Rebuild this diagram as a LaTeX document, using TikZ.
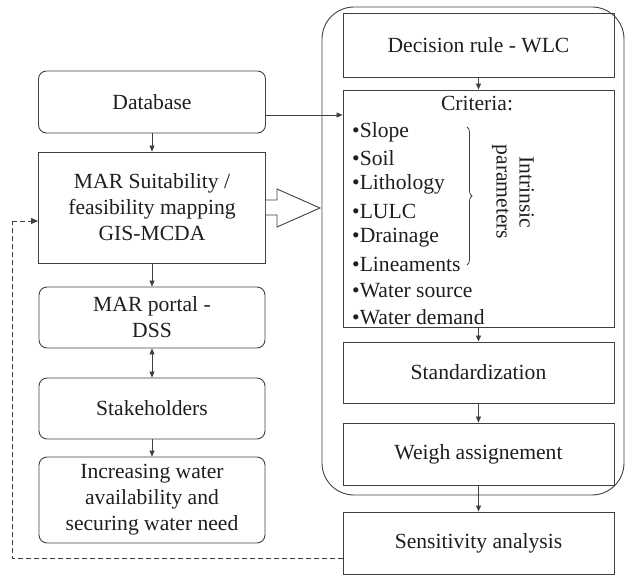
\documentclass[tikz,border=0pt]{standalone}
\usepackage{fontspec}
\setmainfont{Liberation Serif}
\usetikzlibrary{arrows.meta,decorations.pathreplacing}
\definecolor{ln}{HTML}{404040}
\definecolor{tx}{HTML}{1E1E1E}
\tikzset{
  x=1pt,y=-1pt,
  every node/.style={text=tx,font=\fontsize{21.6}{26}\selectfont},
  box/.style={draw=ln,line width=0.9pt,align=center,inner sep=0pt},
  rbox/.style={box,rounded corners=8pt},
  arr/.style={draw=ln,line width=0.8pt,-{Triangle[length=6pt,width=5pt]}},
  darr/.style={draw=ln,line width=0.8pt,{Triangle[length=6pt,width=5pt]}-{Triangle[length=6pt,width=5pt]}},
  item/.style={anchor=west,inner sep=0pt}
}
\begin{document}
\begin{tikzpicture}
\useasboundingbox (0,0) rectangle (625,575);
% container
\draw[ln,line width=0.9pt,rounded corners=32pt] (322,7) rectangle (624,495);
% left column
\node[rbox,minimum width=227pt,minimum height=62pt] (db) at (152,102) {Database};
\node[box,minimum width=227pt,minimum height=111pt] (mar) at (152,207.5) {MAR Suitability /\\feasibility mapping\\GIS-MCDA};
\node[rbox,minimum width=226pt,minimum height=61pt] (portal) at (152,317.5) {MAR portal -\\DSS};
\node[rbox,minimum width=226pt,minimum height=61pt] (stake) at (152,408.5) {Stakeholders};
\node[rbox,minimum width=226pt,minimum height=86pt] (incr) at (152,500) {Increasing water\\availability and\\securing water need};
% right column
\node[box,minimum width=271pt,minimum height=64pt] (dec) at (478.5,45) {Decision rule - WLC};
\node[box,minimum width=271pt,minimum height=237pt] (crit) at (478.5,208.5) {};
\node[box,minimum width=271pt,minimum height=61pt] (std) at (478.5,372.5) {Standardization};
\node[box,minimum width=271pt,minimum height=62pt] (wei) at (478.5,454) {Weigh assignement};
\node[box,minimum width=271pt,minimum height=62pt] (sens) at (478.5,543) {Sensitivity analysis};
% criteria content
\node[inner sep=0pt] (ctitle) at (477,104) {Criteria:};
\node[item] (c1) at (352,132) {•Slope};
\node[item] (c2) at (352,158) {•Soil};
\node[item] (c3) at (352,184.5) {•Lithology};
\node[item] (c4) at (352,211) {•LULC};
\node[item] (c5) at (352,237.5) {•Drainage};
\node[item] (c6) at (352,264) {•Lineaments};
\node[item] (c7) at (352,290.5) {•Water source};
\node[item] (c8) at (352,317) {•Water demand};
\draw[ln,line width=0.8pt,decorate,decoration={brace,amplitude=5pt}] (467,127) -- (467,265) coordinate[midway] (bm);
\node[rotate=-90,align=center,inner sep=0pt,font=\fontsize{21.6}{23}\selectfont] (intr) at (513,192) {Intrinsic\\parameters};
% connectors
\draw[arr] (db) -- (mar);
\draw[arr] (mar) -- (portal);
\draw[darr] (portal) -- (stake);
\draw[arr] (stake) -- (incr);
\draw[arr] (dec) -- (crit);
\draw[arr] (crit) -- (std);
\draw[arr] (std) -- (wei);
\draw[arr] (wei) -- (sens);
\draw[arr] (db.east |- 0,115) -- (crit.west |- 0,115);
% hollow arrow
\draw[ln,line width=0.9pt,fill=white] (mar.east |- 0,200) -- (277,200) -- (277,189) -- (320,208) -- (277,227) -- (277,215) -- (mar.east |- 0,215);
% dashed feedback
\coordinate (fb1) at (12,558);
\coordinate (fb2) at (12,221);
\draw[ln,line width=0.9pt,dashed,dash pattern=on 5pt off 3pt] (sens.west |- 0,558) -- (fb1) -- (fb2);
\draw[ln,line width=0.9pt,dashed,dash pattern=on 5pt off 3pt,-{Triangle[length=7pt,width=6pt]}] (fb2) -- (mar.west |- 0,221);
\end{tikzpicture}
\end{document}
